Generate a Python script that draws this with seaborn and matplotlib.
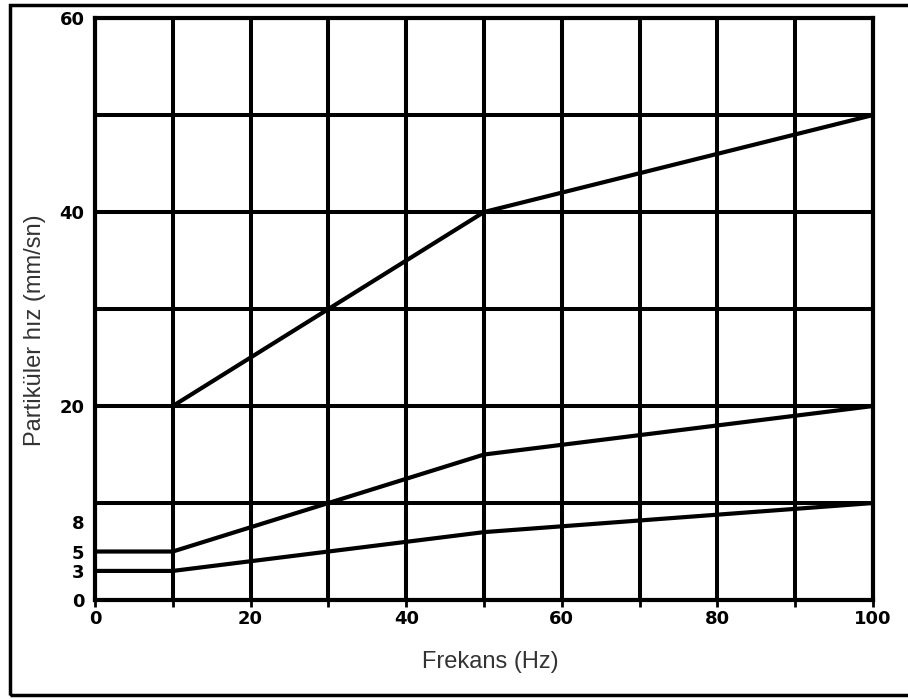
import numpy as np
import pandas as pd
import matplotlib.pyplot as plt
import seaborn as sns
from matplotlib.patches import Rectangle

# values
ust_x = [10, 50, 100]
ust_y = [20, 40, 50]
orta_x = [0, 10, 50, 100]
orta_y = [5, 5, 15, 20]
alt_x = [0, 10, 50, 100]
alt_y = [3, 3, 7, 10]

x_labels = [0, 20, 40, 60, 80, 100]
y_labels = [0, 3, 5, 8, 20, 40, 60]
x_grid = list(range(0, 101, 10))
y_grid = list(range(0, 61, 10))

df = pd.concat([
    pd.DataFrame({'Frekans': ust_x, 'Hiz': ust_y, 'seri': 'ust'}),
    pd.DataFrame({'Frekans': orta_x, 'Hiz': orta_y, 'seri': 'orta'}),
    pd.DataFrame({'Frekans': alt_x, 'Hiz': alt_y, 'seri': 'alt'}),
])

sns.set_style('white')
plt.rcParams['font.family'] = ['Liberation Sans', 'DejaVu Sans']

fig = plt.figure(figsize=(9.08, 6.99), dpi=100)
ax = fig.add_axes([0.1046, 0.1416, 0.8569, 0.8326])

for s in ['ust', 'orta', 'alt']:
    sns.lineplot(data=df[df['seri'] == s], x='Frekans', y='Hiz', color='black',
                 linewidth=3, ax=ax, sort=False, zorder=5)

ax.set_xlim(0, 100)
ax.set_ylim(0, 60)

# thick grid every 10
for gx in x_grid:
    ax.axvline(gx, color='black', linewidth=2.9, zorder=3)
for gy in y_grid:
    ax.axhline(gy, color='black', linewidth=2.9, zorder=3)

ax.set_xticks(x_grid, minor=True)
ax.set_xticks(x_labels)
ax.set_yticks(y_labels)
ax.set_xticklabels([str(v) for v in x_labels], fontsize=13, fontweight='bold',
                   family='DejaVu Sans', color='black')
ax.set_yticklabels([str(v) for v in y_labels], fontsize=13, fontweight='bold',
                   family='DejaVu Sans', color='black')
ax.grid(False)
ax.tick_params(axis='x', which='both', bottom=True, length=5, width=2, color='black', pad=2)
ax.tick_params(axis='y', left=False, pad=4)

for sp in ax.spines.values():
    sp.set_visible(True)
    sp.set_color('black')
    sp.set_linewidth(3)

ax.set_xlabel('Frekans (Hz)', fontsize=17, color='#333333')
ax.set_ylabel('Partiküler hız (mm/sn)', fontsize=17, color='#333333')
ax.xaxis.set_label_coords(0.508, -0.088)
ax.yaxis.set_label_coords(-0.063, 0.464)

# outer frame of the scan
fig.patches.append(Rectangle((10 / 908, 1 - 695 / 699), 1.2, (695 - 5) / 699,
                             transform=fig.transFigure, fill=False,
                             edgecolor='black', linewidth=2.5))

fig.savefig('out.png', dpi=100)
